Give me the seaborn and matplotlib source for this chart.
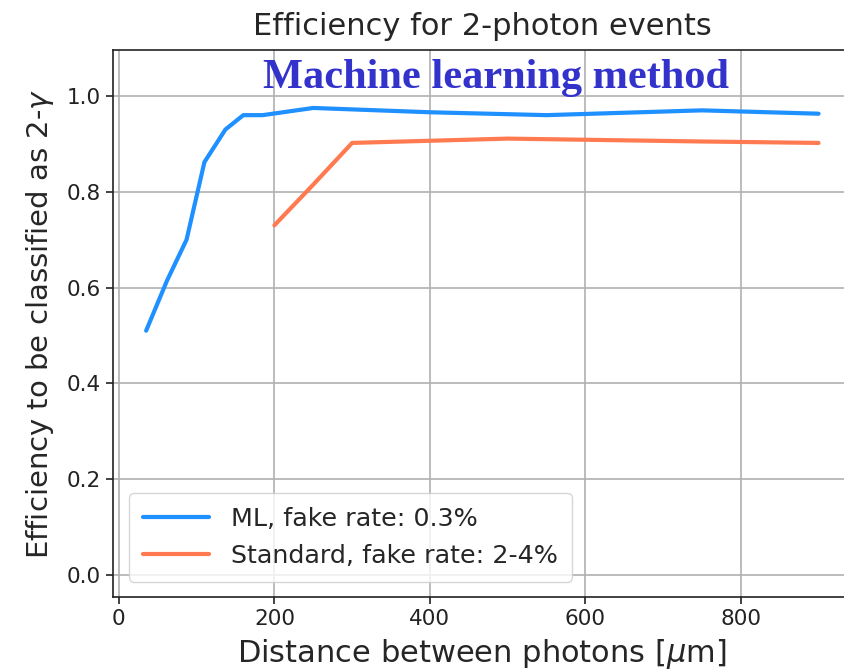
import matplotlib
matplotlib.use("Agg")
import matplotlib.pyplot as plt
import seaborn as sns
import pandas as pd

ml_x = [35, 62, 87, 110, 137, 160, 185, 250, 400, 550, 750, 900]
ml_y = [0.51, 0.615, 0.70, 0.862, 0.93, 0.96, 0.96, 0.975, 0.966, 0.96, 0.97, 0.963]
std_x = [200, 250, 300, 500, 750, 900]
std_y = [0.73, 0.815, 0.902, 0.911, 0.905, 0.902]
ml_label = "ML, fake rate: 0.3%"
std_label = "Standard, fake rate: 2-4%"

sns.set_style("ticks")
plt.rcParams['font.family'] = ['DejaVu Sans']

df = pd.concat([
    pd.DataFrame({"x": ml_x, "y": ml_y, "method": ml_label}),
    pd.DataFrame({"x": std_x, "y": std_y, "method": std_label}),
])

fig = plt.figure(figsize=(8.44, 6.72), dpi=100)
ax = fig.add_axes([112.7/844, 1-597/672, (852-112.7)/844, (597-50)/672])

sns.lineplot(data=df, x="x", y="y", hue="method", ax=ax,
             palette={ml_label: "#1E90FF", std_label: "#FF7A50"},
             linewidth=3, sort=False, estimator=None)

ax.set_xlim(-8, 943)
ax.set_ylim(-0.046, 1.096)
ax.set_xticks([0, 200, 400, 600, 800])
ax.set_yticks([0.0, 0.2, 0.4, 0.6, 0.8, 1.0])
ax.grid(True, color="#b0b0b0", linewidth=1.2)
for s in ax.spines.values():
    s.set_color("#222222")
    s.set_linewidth(1.2)
ax.spines["right"].set_visible(False)
ax.tick_params(labelsize=15.5, length=5, width=1.2, color="#222222",
               labelcolor="#222222")

ax.set_title("Efficiency for 2-photon events", fontsize=22, pad=11)
ax.set_xlabel(r"Distance between photons [$\mu$m]", fontsize=22, labelpad=6)
ax.set_ylabel(r"Efficiency to be classified as 2-$\gamma$", fontsize=21, labelpad=8)

leg = ax.legend(loc="lower left", fontsize=18.3, title=None, handlelength=2.6,
                handletextpad=0.85, borderpad=0.55, framealpha=0.8,
                bbox_to_anchor=(0.005, 0.005))

fig.text(496/844, 1-78/672, "Machine learning method", fontsize=30.5,
         family="Liberation Serif", weight="bold", color="#3333CC",
         ha="center", va="center")

fig.savefig("out.png", dpi=100)
